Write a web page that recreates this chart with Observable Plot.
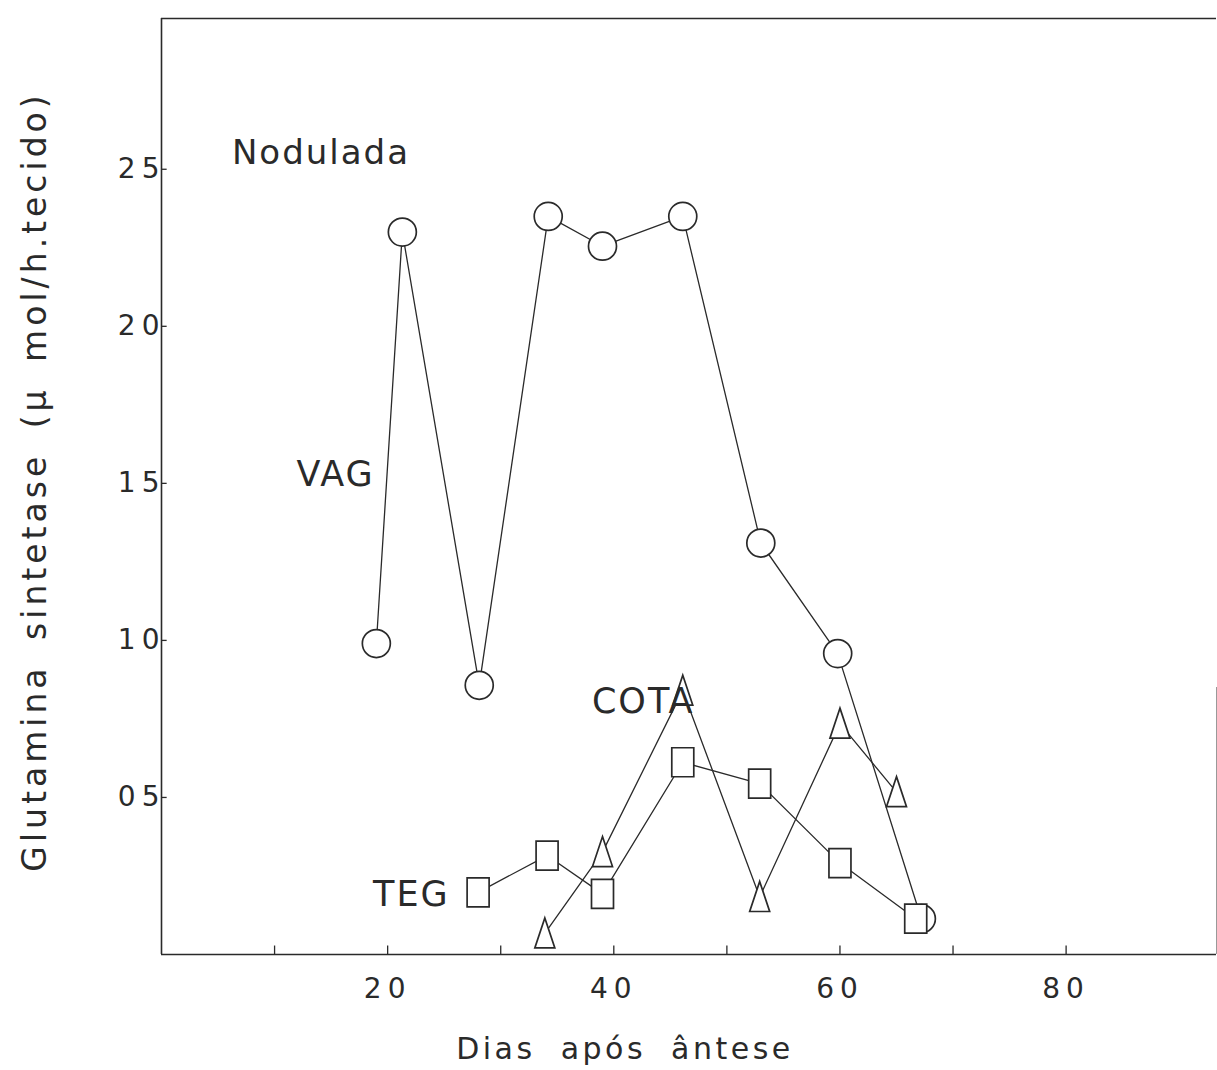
<!DOCTYPE html>
<html><head><meta charset="utf-8">
<script src="https://cdn.jsdelivr.net/npm/d3@7"></script>
<script src="https://cdn.jsdelivr.net/npm/@observablehq/plot@0.6"></script>
<style>
body{margin:0;background:#fff}
.lbl-series text{letter-spacing:2px}
.lbl-axis text{letter-spacing:3.5px;word-spacing:12px}
.lbl-yaxis text{letter-spacing:4px;word-spacing:10px}
.tick-lbl text{letter-spacing:6px}
</style>
</head><body><div id="chart"></div>
<script>
// ---- data ----
const daysVAG   = [19, 21.3, 28.1, 34.2, 39, 46.1, 53, 59.8, 67.2];
const valuesVAG = [9.9, 23.0, 8.57, 23.5, 22.55, 23.5, 13.1, 9.58, 1.14];
const daysTEG   = [28, 34.1, 39, 46.1, 52.9, 60, 66.7];
const valuesTEG = [1.98, 3.15, 1.93, 6.12, 5.44, 2.91, 1.14];
const daysCOTA   = [33.9, 39, 46.1, 52.9, 60, 65];
const valuesCOTA = [0.67, 3.26, 8.4, 1.83, 7.35, 5.17];

const seriesNames = ["VAG", "COTA", "TEG"];
const seriesLabelDays = [15.4, 42.6, 22.1];
const seriesLabelValues = [14.93, 7.7, 1.56];
const titleText = "Nodulada";
const titleDay = 14.1, titleValue = 25.18;

const xTicks = [10, 20, 30, 40, 50, 60, 70, 80];
const xTickLabels = [20, 40, 60, 80];
const yTicks = [5, 10, 15, 20, 25];
const yTickLabels = ["05", "10", "15", "20", "25"];
const xLabel = "Dias após ântese";
const yLabel = "Glutamina sintetase (μ mol/h.tecido)";
const xDomain = [0, 93.3];
const yDomain = [0, 29.8];

// ---- build ----
const toRows = (xs, ys) => xs.map((x, i) => ({x, y: ys[i]}));
const vag = toRows(daysVAG, valuesVAG);
const teg = toRows(daysTEG, valuesTEG);
const cota = toRows(daysCOTA, valuesCOTA);
const seriesLabels = seriesNames.map((name, i) => ({name, x: seriesLabelDays[i], y: seriesLabelValues[i]}));

const tallSquare = {draw(ctx) { ctx.moveTo(-11, -14.5); ctx.lineTo(11, -14.5); ctx.lineTo(11, 14.5); ctx.lineTo(-11, 14.5); ctx.closePath(); }};
const tallTriangle = {draw(ctx) { ctx.moveTo(0, -15.5); ctx.lineTo(10, 14.5); ctx.lineTo(-10, 14.5); ctx.closePath(); }};

const ink = "#2a2a2a";
const font = "DejaVu Sans";

const chart = Plot.plot({
  width: 1217,
  height: 1070,
  marginLeft: 161,
  marginRight: 1,
  marginTop: 18,
  marginBottom: 116,
  style: {fontFamily: font, background: "#fff", color: ink},
  x: {domain: xDomain},
  y: {domain: yDomain},
  marks: [
    // frame lines
    Plot.ruleX([xDomain[0]], {stroke: ink, strokeWidth: 1.6}),
    Plot.ruleY([yDomain[0]], {stroke: ink, strokeWidth: 1.4}),
    Plot.ruleY([yDomain[1]], {stroke: ink, strokeWidth: 1.6}),
    Plot.ruleX([xDomain[1]], {y1: 0, y2: 8.5, stroke: "#999", strokeWidth: 1}),
    // inward tick marks
    Plot.ruleX(xTicks, {y1: 0, y2: 0.27, stroke: ink, strokeWidth: 1.3}),
    Plot.ruleY(yTicks, {x1: 0, x2: 0.5, stroke: ink, strokeWidth: 1.3}),
    // tick labels
    Plot.axisX({ticks: xTickLabels, tickSize: 0, tickPadding: 24, tickFormat: d => String(d), label: null,
      fontSize: 28, fill: ink, className: "tick-lbl"}),
    Plot.axisY({ticks: yTicks, tickSize: 0, tickPadding: -4, tickFormat: (d, i) => yTickLabels[i], label: null,
      fontSize: 28, fill: ink, className: "tick-lbl"}),
    // lines
    Plot.line(vag, {x: "x", y: "y", stroke: ink, strokeWidth: 1.3}),
    Plot.line(cota, {x: "x", y: "y", stroke: ink, strokeWidth: 1.3}),
    Plot.line(teg, {x: "x", y: "y", stroke: ink, strokeWidth: 1.3}),
    // markers
    Plot.dot(vag, {x: "x", y: "y", r: 14, symbol: "circle", fill: "white", stroke: ink, strokeWidth: 1.7}),
    Plot.dot(cota, {x: "x", y: "y", r: 10, symbol: tallTriangle, fill: "white", stroke: ink, strokeWidth: 1.7}),
    Plot.dot(teg, {x: "x", y: "y", r: 10, symbol: tallSquare, fill: "white", stroke: ink, strokeWidth: 1.7}),
    // annotations
    Plot.text([titleText], {x: titleDay, y: titleValue, text: d => d, textAnchor: "middle", lineAnchor: "bottom",
      fontSize: 34, fill: ink, className: "lbl-series"}),
    Plot.text(seriesLabels, {x: "x", y: "y", text: "name", textAnchor: "middle", lineAnchor: "bottom",
      fontSize: 35, fill: ink, className: "lbl-series"}),
    Plot.text([xLabel], {text: d => d, frameAnchor: "bottom", textAnchor: "middle", dx: -64, dy: 104, lineAnchor: "bottom",
      fontSize: 30, fill: ink, className: "lbl-axis"}),
    Plot.text([yLabel], {text: d => d, frameAnchor: "left", textAnchor: "middle", dx: -116, dy: -5, rotate: -90, lineAnchor: "bottom",
      fontSize: 33, fill: ink, className: "lbl-yaxis"})
  ]
});
document.getElementById("chart").appendChild(chart);
</script>
</body></html>
